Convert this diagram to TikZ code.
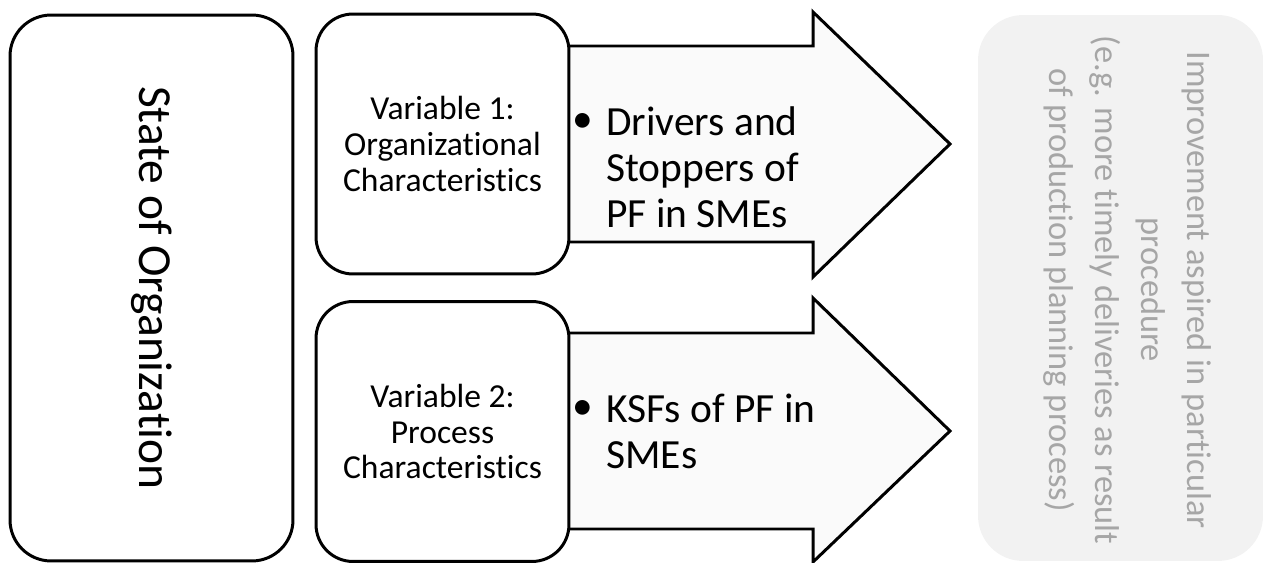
\documentclass[tikz,border=0pt]{standalone}
\usepackage{fontspec}
\setmainfont{Carlito}[Ligatures=NoCommon]
\definecolor{arrowfill}{HTML}{FAFAFA}
\definecolor{goalfill}{HTML}{F2F2F2}
\definecolor{goaltext}{HTML}{A6A6A6}

\begin{document}
\begin{tikzpicture}[x=0.02cm, y=-0.02cm,
	box/.style={draw, line width=1.7pt, fill=white, align=center},
	blockarrow/.style={draw, line width=1.7pt, fill=arrowfill, line join=miter},
	varbox/.style={box, rounded corners=0.74cm, minimum width=5.06cm,
		minimum height=5.2cm, font=\fontsize{19.1}{20.3}\selectfont},
	point/.style={inner sep=0pt, font=\fontsize{23.6}{26.2}\selectfont},
	pointtext/.style={point, align=left, anchor=west}]
	\useasboundingbox (0,0) rectangle (1266,563);
	% block arrows, tails hidden under the variable boxes
	\draw[blockarrow] (540,46) -- (813,46) -- (813,12) -- (950,144)
		-- (813,277) -- (813,242) -- (540,242) -- cycle;
	\draw[blockarrow] (540,333) -- (813,333) -- (813,298) -- (950,431)
		-- (813,562) -- (813,529) -- (540,529) -- cycle;
	\node[box, rounded corners=0.82cm, rotate=-90, minimum width=10.92cm,
		minimum height=5.66cm, font=\fontsize{27}{30}\selectfont]
		(state) at (151.5,288) {State of Organization};
	\node[varbox] (var1) at (442.5,144) {Variable 1:\\Organizational\\Characteristics};
	\node[varbox] (var2) at (442.5,431.5) {Variable 2:\\Process\\Characteristics};
	\node[point] (dot1) at (583,123) {\textbullet};
	\node[pointtext] (drv) at (606,167) {Drivers and\\Stoppers of\\PF in SMEs};
	\node[point] (dot2) at (583,410) {\textbullet};
	\node[pointtext] (ksf) at (606,431) {KSFs of PF in\\SMEs};
	% aspired result, greyed out
	\node[fill=goalfill, rounded corners=0.9cm, rotate=-90, minimum width=10.92cm,
		minimum height=5.7cm] (goal) at (1120.5,288) {};
	\node[rotate=-90, align=center, text=goaltext, font=\fontsize{19.6}{26.2}\selectfont]
		(goaltxt) at (1127.5,290) {Improvement aspired in particular\\procedure\\(e.g. more timely deliveries as result\\of production planning process)};
\end{tikzpicture}
\end{document}
